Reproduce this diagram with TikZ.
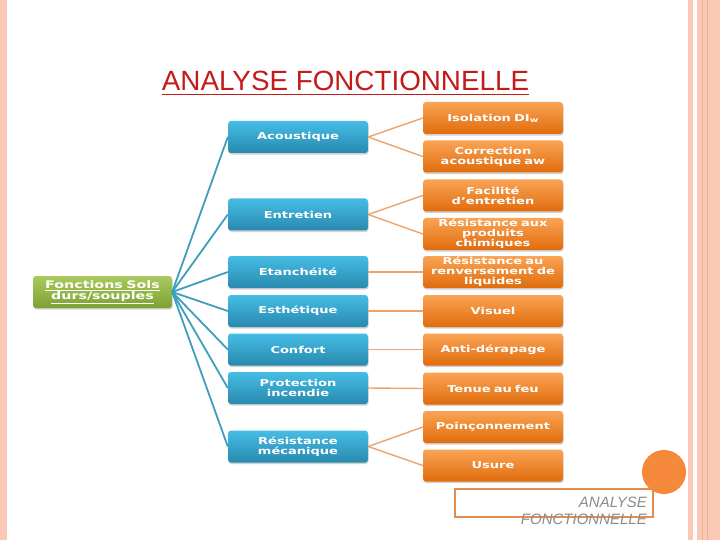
\documentclass[tikz,border=0pt]{standalone}
\usepackage{fontspec}
\setmainfont{Liberation Sans}
\newfontfamily\boxfont{DejaVu Sans}[FakeStretch=1.37]
\usepackage{tikz}
\usetikzlibrary{shadows}

\definecolor{pinkband}{HTML}{FAC9B6}
\definecolor{pinkline}{HTML}{F3AE93}
\definecolor{titlered}{HTML}{C51A1A}
\definecolor{blueT}{HTML}{46BDE6}
\definecolor{blueB}{HTML}{2889AE}
\definecolor{orangeT}{HTML}{FAA455}
\definecolor{orangeB}{HTML}{E06C0C}
\definecolor{greenT}{HTML}{A9CA5E}
\definecolor{greenB}{HTML}{7CA232}
\definecolor{bluelink}{HTML}{3E9EBD}
\definecolor{orangelink}{HTML}{ECA46C}
\definecolor{dotorange}{HTML}{F5883A}
\definecolor{frameorange}{HTML}{E58D4E}

\begin{document}
\begin{tikzpicture}[x=1pt,y=-1pt,
	box/.style={rectangle,rounded corners=3pt,minimum width=140pt,minimum height=32pt,
		text width=136pt,align=center,inner sep=0pt,text=white,
		font=\boxfont\bfseries\fontsize{9.5}{10}\selectfont,
		drop shadow={opacity=0.35,shadow xshift=0.6pt,shadow yshift=-1.6pt}},
	fonction/.style={box,top color=blueT,bottom color=blueB},
	critere/.style={box,top color=orangeT,bottom color=orangeB},
	racine/.style={box,minimum width=139pt,text width=135pt,top color=greenT,bottom color=greenB,
		font=\boxfont\bfseries\fontsize{10.4}{11}\selectfont},
	bluelink/.style={draw=bluelink,line width=1.8pt},
	orangelink/.style={draw=orangelink,line width=1.4pt}]

		\useasboundingbox (0,0) rectangle (720,540);
		\fill[white] (0,0) rectangle (720,540);

		% page borders
		\fill[pinkband] (0,0) rectangle (7,540);
		\fill[pinkband] (688,0) rectangle (692.5,540);
		\fill[pinkband] (697,0) rectangle (720,540);
		\fill[pinkline] (702,0) rectangle (703.2,540);
		\fill[pinkline] (707,0) rectangle (708.2,540);

		\node[inner xsep=0pt,text=titlered,font=\fontsize{27.8}{30}\selectfont] (title) at (345.5,81) {ANALYSE FONCTIONNELLE};
		\draw[titlered,line width=1.8pt] ([yshift=-4pt]title.base west) -- ([yshift=-4pt]title.base east);

		\node[racine] (root) at (102.5,292) {\underline{Fonctions Sols}\\\underline{durs/souples}};

		\node[fonction] (acou) at (298,137) {Acoustique};
		\node[fonction] (entr) at (298,214.5) {Entretien};
		\node[fonction] (etan) at (298,272) {Etanchéité};
		\node[fonction] (esth) at (298,311) {Esthétique};
		\node[fonction] (conf) at (298,349.5) {Confort};
		\node[fonction] (prot) at (298,388) {Protection\\incendie};
		\node[fonction] (meca) at (298,446.5) {Résistance\\mécanique};

		\node[critere] (isol) at (493,118) {Isolation DI\textsubscript{w}};
		\node[critere] (corr) at (493,156.5) {Correction\\acoustique aw};
		\node[critere] (faci) at (493,195.5) {Facilité\\d’entretien};
		\node[critere] (chim) at (493,234) {Résistance aux\\produits\\chimiques};
		\node[critere] (liqu) at (493,272) {Résistance au\\renversement de\\liquides};
		\node[critere] (visu) at (493,311) {Visuel};
		\node[critere] (dera) at (493,349.5) {Anti-dérapage};
		\node[critere] (feu) at (493,388.5) {Tenue au feu};
		\node[critere] (poin) at (493,427) {Poinçonnement};
		\node[critere] (usur) at (493,465.5) {Usure};

		\path[bluelink] (root.east) edge (acou.west);
		\path[bluelink] (root.east) edge (entr.west);
		\path[bluelink] (root.east) edge (etan.west);
		\path[bluelink] (root.east) edge (esth.west);
		\path[bluelink] (root.east) edge (conf.west);
		\path[bluelink] (root.east) edge (prot.west);
		\path[bluelink] (root.east) edge (meca.west);

		\path[orangelink] (acou.east) edge (isol.west);
		\path[orangelink] (acou.east) edge (corr.west);
		\path[orangelink] (entr.east) edge (faci.west);
		\path[orangelink] (entr.east) edge (chim.west);
		\path[orangelink] (etan.east) edge (liqu.west);
		\path[orangelink] (esth.east) edge (visu.west);
		\path[orangelink] (conf.east) edge (dera.west);
		\path[orangelink] (prot.east) edge (feu.west);
		\path[orangelink] (meca.east) edge (poin.west);
		\path[orangelink] (meca.east) edge (usur.west);

		% footer
		\fill[dotorange] (664,472) circle (22);
		\draw[frameorange,line width=2.6pt] (455,489) rectangle (653,517);
		\node[anchor=north east,align=right,inner sep=0pt,text=black!45,
			font=\itshape\fontsize{15}{17}\selectfont] (foot) at (647,497) {ANALYSE\\FONCTIONNELLE};

	\end{tikzpicture}
\end{document}
